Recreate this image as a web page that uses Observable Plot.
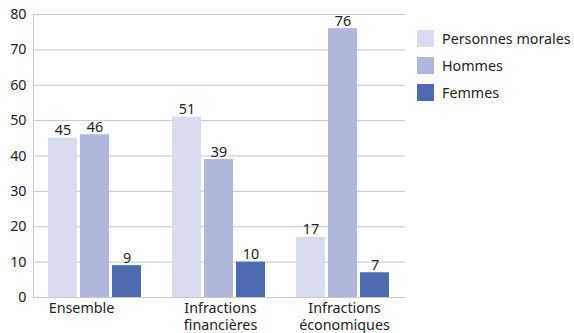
<!DOCTYPE html>
<html>
<head>
<meta charset="utf-8">
<script src="https://cdn.jsdelivr.net/npm/d3@7"></script>
<script src="https://cdn.jsdelivr.net/npm/@observablehq/plot@0.6"></script>
<style>
  body { margin: 0; background: #fff; font-family: "Noto Sans", sans-serif; }
  #wrap { position: relative; width: 574px; height: 333px; overflow: hidden; }
  #legend { position: absolute; left: 417px; top: 30px; font-size: 14.3px; color: #222; }
  .item { display: flex; align-items: center; height: 17px; margin-bottom: 10px; white-space: nowrap; }
  .sw { width: 17px; height: 17px; margin-right: 8px; flex: none; }
</style>
</head>
<body>
<div id="wrap"><div id="legend"></div></div>
<script>
const categories = ["Ensemble", "Infractions financières", "Infractions économiques"];
const categoryLabels = ["Ensemble", "Infractions\nfinancières", "Infractions\néconomiques"];
const seriesNames = ["Personnes morales", "Hommes", "Femmes"];
const seriesColors = ["#d9dbef", "#b2b7dc", "#4e6bb1"];
const personnesMorales = [45, 51, 17];
const hommes = [46, 39, 76];
const femmes = [9, 10, 7];
const yTicks = [0, 10, 20, 30, 40, 50, 60, 70, 80];

const seriesValues = [personnesMorales, hommes, femmes];
const data = [];
categories.forEach((c, i) => {
  seriesNames.forEach((s, j) => {
    data.push({category: c, series: s, value: seriesValues[j][i]});
  });
});
const labelOf = d => categoryLabels[categories.indexOf(d)];

const fs = 14.3;
const labelOpts = {fx: d => d, text: labelOf, frameAnchor: "bottom", lineAnchor: "top",
  dy: 3, lineHeight: 1.2, fontSize: fs, fill: "#222"};
const chart = Plot.plot({
  width: 574,
  height: 333,
  marginLeft: 32,
  marginRight: 169,
  marginTop: 14,
  marginBottom: 36,
  style: {fontFamily: "Noto Sans, sans-serif", fontSize: fs + "px", color: "#222"},
  fx: {domain: categories, padding: 0, axis: null},
  x: {domain: seriesNames, paddingInner: 0.09, paddingOuter: 0.43, axis: null},
  y: {domain: [0, 80]},
  color: {domain: seriesNames, range: seriesColors},
  marks: [
    Plot.gridY(yTicks, {stroke: "#c8c8c8", strokeOpacity: 1}),
    Plot.frame({anchor: "left", facetAnchor: "left", stroke: "#c8c8c8"}),
    Plot.axisY(yTicks, {tickSize: 0, tickPadding: 7, label: null, fontSize: fs, fill: "#222"}),
    Plot.text(categories.slice(0, 1), {...labelOpts, dx: -14}),
    Plot.text(categories.slice(1), {...labelOpts, dx: 1}),
    Plot.barY(data, {fx: "category", x: "series", y: "value", fill: "series"}),
    Plot.text(data, {fx: "category", x: "series", y: "value", text: d => String(d.value),
      lineAnchor: "bottom", dy: -3, fontSize: fs, fill: "#222"})
  ]
});
document.getElementById("wrap").prepend(chart);

const legend = d3.select("#legend");
seriesNames.forEach((s, i) => {
  const it = legend.append("div").attr("class", "item");
  it.append("div").attr("class", "sw").style("background", seriesColors[i]);
  it.append("span").text(s);
});
</script>
</body>
</html>
